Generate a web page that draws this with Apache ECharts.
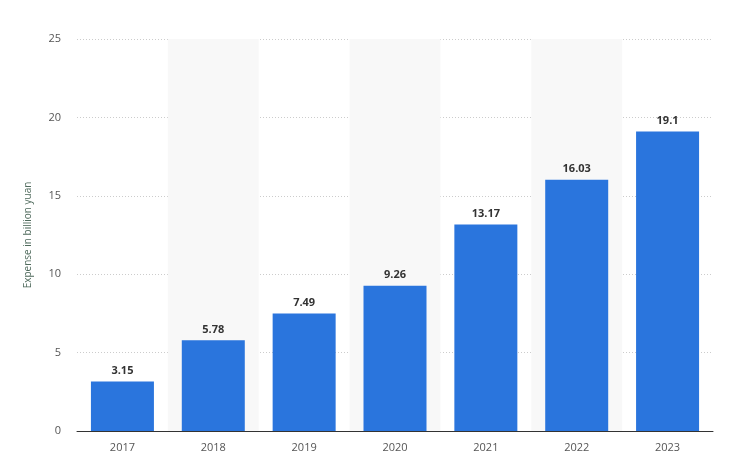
<!DOCTYPE html>
<html>
<head>
<meta charset="utf-8">
<script src="https://cdn.jsdelivr.net/npm/echarts@6/dist/echarts.min.js"></script>
<style>html,body{margin:0;padding:0;background:#fff}#container{width:729px;height:473px}</style>
</head>
<body>
<div id="container"></div>
<script>
var years = ["2017", "2018", "2019", "2020", "2021", "2022", "2023"];
var expense = [3.15, 5.78, 7.49, 9.26, 13.17, 16.03, 19.1];
var yTicks = { min: 0, max: 25, interval: 5 };

var myChart = echarts.init(document.getElementById("container"));
var option = {
  animation: false,
  grid: { left: 77, right: 16, top: 39, bottom: 42 },
  xAxis: {
    type: "category",
    data: years,
    axisLine: { lineStyle: { color: "#333" } },
    axisTick: { show: false },
    axisLabel: { color: "#555", fontSize: 11, fontFamily: "Open Sans", margin: 11 },
    splitArea: { show: true, areaStyle: { color: ["rgba(0,0,0,0)", "#f8f8f8"] } }
  },
  yAxis: {
    type: "value",
    min: yTicks.min, max: yTicks.max, interval: yTicks.interval,
    name: "Expense in billion yuan",
    nameLocation: "middle",
    nameGap: 44,
    nameTextStyle: { color: "#4f6a5c", fontSize: 10, fontFamily: "Open Sans" },
    axisLine: { show: false },
    axisTick: { show: false },
    axisLabel: { color: "#555", fontSize: 11, fontFamily: "Open Sans", margin: 16 },
    splitLine: { lineStyle: { color: "#ccc", type: [1, 2] } }
  },
  series: [{
    type: "bar",
    data: expense,
    barWidth: 63,
    itemStyle: { color: "#2a75dd" },
    label: { show: true, position: "top", color: "#333", fontWeight: "bold", fontSize: 11, fontFamily: "Open Sans", distance: 5 }
  }]
};
myChart.setOption(option);
</script>
</body>
</html>
